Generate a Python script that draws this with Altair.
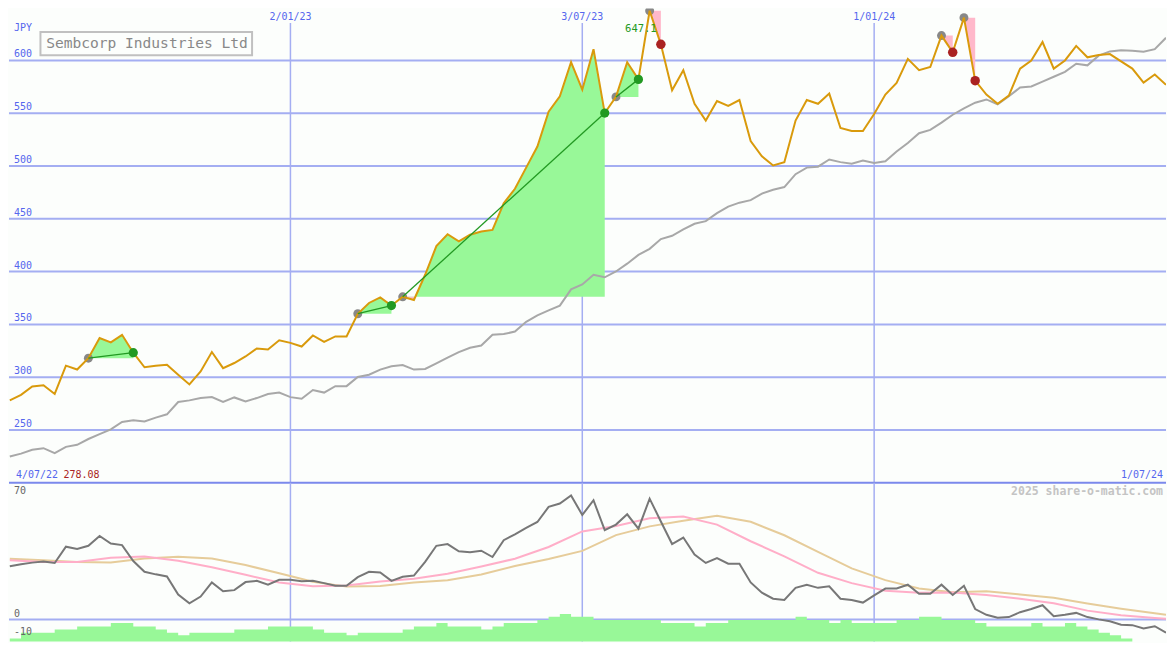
import altair as alt
import pandas as pd

# ---------------- data ----------------
TITLE = "Sembcorp Industries Ltd"
START = "2022-07-11"

price = [278.08, 283.2, 291.2, 292.4, 284.1, 310.9, 307.2, 318.0, 337.1, 333.0,
         340.1, 323.2, 309.4, 310.9, 311.8, 302.3, 293.1, 305.4, 323.8, 308.5,
         313.4, 319.6, 327.2, 326.3, 334.9, 332.5, 329.0, 339.5, 333.4, 338.6,
         338.6, 360.1, 370.3, 375.5, 367.8, 376.1, 373.1, 397.0, 424.1, 435.4,
         428.7, 434.9, 437.9, 439.5, 464.7, 478.5, 498.5, 518.5, 551.4, 566.1,
         598.4, 572.3, 610.7, 550.2, 565.5, 598.4, 582.1, 647.1, 615.3, 571.7,
         590.8, 559.0, 543.1, 561.5, 556.9, 562.5, 523.7, 509.2, 500.6, 503.7,
         543.1, 562.5, 559.0, 568.6, 536.0, 533.2, 533.2, 549.3, 567.7, 578.8,
         601.5, 590.8, 593.8, 623.6, 607.7, 640.6, 580.9, 567.7, 559.0, 566.8,
         592.3, 600.0, 617.5, 592.3, 600.0, 613.8, 603.0, 605.2, 606.1, 599.1,
         592.3, 579.1, 586.7, 576.9]

ma = [224.8, 227.6, 231.3, 232.7, 228.0, 234.0, 235.9, 241.4, 246.0, 250.6,
      257.6, 259.2, 258.0, 261.7, 264.8, 276.5, 278.0, 280.2, 281.1, 276.5,
      280.8, 277.1, 280.2, 284.1, 285.4, 281.1, 279.5, 287.8, 285.4, 291.5,
      291.5, 300.2, 302.3, 307.2, 310.3, 311.5, 307.2, 307.8, 313.1, 318.6,
      323.8, 327.9, 330.0, 340.1, 340.8, 343.2, 352.4, 358.6, 363.2, 367.8,
      383.2, 387.8, 397.0, 394.6, 400.1, 407.5, 415.8, 421.6, 430.8, 433.9,
      440.0, 445.3, 447.8, 455.4, 461.6, 465.3, 467.7, 473.9, 477.6, 480.1,
      492.3, 498.5, 499.4, 506.2, 503.7, 502.2, 505.3, 502.8, 504.6, 513.8,
      521.9, 531.1, 534.3, 541.2, 548.6, 554.6, 560.0, 563.1, 558.5, 566.1,
      574.4, 575.4, 580.0, 584.6, 589.2, 596.9, 595.4, 604.6, 608.6, 609.8,
      609.2, 608.3, 610.7, 621.5]

mom = [30.4, 31.6, 32.5, 33.2, 32.3, 41.6, 40.3, 42.1, 47.7, 43.4,
       42.5, 33.4, 27.3, 25.8, 24.6, 14.3, 9.3, 13.1, 21.2, 16.2,
       16.8, 21.4, 22.1, 19.9, 22.7, 22.7, 21.8, 22.1, 20.8, 19.3,
       19.3, 24.2, 27.3, 26.9, 22.1, 24.4, 25.1, 32.9, 42.1, 43.1,
       39.0, 38.4, 39.3, 35.7, 45.3, 48.6, 52.3, 55.7, 64.3, 66.2,
       70.8, 59.7, 68.1, 51.0, 54.2, 60.1, 51.9, 69.0, 56.0, 43.1,
       46.8, 37.1, 32.3, 35.1, 31.9, 31.9, 21.2, 15.3, 11.9, 11.2,
       18.1, 19.9, 18.1, 19.0, 11.9, 11.2, 9.7, 13.8, 17.7, 17.7,
       19.9, 14.7, 14.7, 19.9, 14.0, 19.3, 6.0, 2.7, 1.0, 1.4,
       4.2, 6.0, 8.2, 1.9, 2.7, 3.8, 1.4, 0.1, -1.0, -2.9,
       -3.2, -5.1, -3.8, -7.5]

hist = [-10.8, -7.5, -7.5, -7.5, -5.7, -5.7, -4.0, -4.0, -4.0, -1.9,
        -1.9, -4.0, -4.0, -5.7, -7.5, -9.0, -7.5, -7.5, -7.5, -7.5,
        -5.7, -5.7, -5.7, -4.0, -4.0, -4.0, -4.0, -5.7, -7.5, -7.5,
        -9.0, -7.5, -7.5, -7.5, -7.5, -5.7, -4.0, -4.0, -1.9, -4.0,
        -4.0, -4.0, -5.7, -4.0, -1.9, -1.9, -1.9, -0.3, 1.6, 3.1,
        1.6, 1.6, -0.3, -0.3, -0.3, -0.3, -0.3, -0.3, -1.9, -1.9,
        -1.9, -4.0, -1.9, -1.9, -0.3, -0.3, -0.3, -0.3, -0.3, -0.3,
        1.6, -0.3, -0.3, -1.9, -0.3, -1.9, -1.9, -1.9, -1.9, -0.3,
        -0.3, 1.6, 1.6, -0.3, -0.3, -0.3, -1.9, -4.0, -4.0, -4.0,
        -4.0, -1.9, -4.0, -4.0, -1.9, -4.0, -5.7, -7.5, -9.0, -10.8,
        -12.5, -12.5, -12.5, -12.5]

slow_idx = [0, 3, 6, 9, 12, 15, 18, 21, 24, 27, 30, 33, 36, 39, 42, 45, 48, 51,
            54, 57, 60, 63, 66, 69, 72, 75, 78, 81, 84, 87, 90, 93, 96, 99, 102, 103]
pink = [33.8, 32.8, 32.9, 35.3, 36.0, 33.6, 29.9, 25.6, 21.1, 19.0, 19.4, 21.7,
        23.3, 26.1, 30.3, 34.7, 41.4, 50.3, 53.4, 57.8, 58.8, 54.2, 44.7, 36.1,
        26.7, 20.8, 16.4, 15.3, 15.4, 14.0, 11.9, 9.3, 5.1, 2.5, 0.9, 0.4]
tan = [34.7, 33.8, 32.8, 32.6, 34.9, 35.9, 34.9, 31.1, 26.4, 21.6, 18.8, 19.2,
       21.1, 22.5, 25.7, 30.6, 34.6, 39.2, 48.2, 53.2, 56.4, 59.2, 55.8, 48.1,
       38.6, 29.2, 22.5, 17.7, 15.6, 16.1, 14.3, 12.5, 9.2, 6.2, 3.6, 2.7]

buy_trades = [(7, 11), (31, 34), (35, 53), (54, 56)]
sell_trades = [(57, 58), (83, 84), (85, 86)]
under_water = [(35, 36)]

price_ticks = [250, 300, 350, 400, 450, 500, 550, 600]
osc_ticks = [70, 0, -10]
grid_dates = ["2023-01-02", "2023-07-03", "2024-01-01"]
grid_labels = ["2/01/23", "3/07/23", "1/01/24"]
first_label = "4/07/22"
last_label = "1/07/24"
peak_label = "647.1"
watermark = "2025 share-o-matic.com"

# ---------------- style / layout ----------------
W, H1, H2 = 1159, 475, 159
BG = "#fcfefc"
BLUE_TXT = "#5566ee"
GRID = "#a4aef2"
SEP = "#7b89ec"
FONT = "DejaVu Sans Mono"
GREEN_FILL = "#98f898"
PINK_FILL = "#ffb8ca"

dates = pd.date_range(START, periods=len(price), freq="7D")
df = pd.DataFrame({"date": dates, "price": price, "ma": ma, "mom": mom, "hist": hist})
slow = pd.DataFrame({"date": dates[slow_idx], "pink": pink, "tan": tan})


def segs(trades, tag):
    rows = []
    for k, (a, b) in enumerate(trades):
        for i in range(a, b + 1):
            rows.append({"trade": f"{tag}{k}", "date": dates[i],
                         "price": price[i], "base": price[a]})
    return pd.DataFrame(rows)


buy_df = segs(buy_trades, "b")
sell_df = segs(sell_trades + under_water, "s")
line_df = pd.DataFrame(
    [{"trade": f"b{k}", "date": dates[i], "price": price[i]}
     for k, (a, b) in enumerate(buy_trades) for i in (a, b)])

entry_idx = [a for a, b in buy_trades + sell_trades]
win_idx = [b for a, b in buy_trades]
loss_idx = [b for a, b in sell_trades]


def dots(idx):
    return pd.DataFrame({"date": dates[idx], "price": [price[i] for i in idx]})


grid_df = pd.DataFrame({"date": pd.to_datetime(grid_dates), "lab": grid_labels})
ptick_df = pd.DataFrame({"v": price_ticks, "lab": [str(v) for v in price_ticks]})
otick_df = pd.DataFrame({"v": osc_ticks, "lab": [str(v) for v in osc_ticks]})
one = pd.DataFrame({"t": [TITLE]})

xdom = [alt.DateTime(year=2022, month=7, date=10, hours=12),
        alt.DateTime(year=2024, month=7, date=1)]
xs = alt.Scale(domain=xdom, nice=False)
ys = alt.Scale(domain=[200, 649.2], nice=False, zero=False)
bs = alt.Scale(domain=[-12.5, 78.1], nice=False, zero=False)


def X(f="date"):
    return alt.X(f"{f}:T", scale=xs, axis=None)


def Y(f):
    return alt.Y(f"{f}:Q", scale=ys, axis=None, stack=False)


def B(f):
    return alt.Y(f"{f}:Q", scale=bs, axis=None, stack=False)


def txt(**kw):
    base = dict(font=FONT, fontSize=10, align="left", baseline="middle")
    base.update(kw)
    return base


# ---------------- top panel ----------------
hgrid = alt.Chart(ptick_df).mark_rule(color=GRID, strokeWidth=2).encode(y=Y("v"))
vgrid = alt.Chart(grid_df).mark_rule(color=GRID, strokeWidth=1.5).encode(
    x=X(), y=alt.value(14.6), y2=alt.value(H1))
sep = alt.Chart(one).mark_rule(color=SEP, strokeWidth=2).encode(
    x=alt.value(0), x2=alt.value(W), y=alt.value(H1))

green_area = alt.Chart(buy_df).mark_area(color=GREEN_FILL, opacity=1).encode(
    x=X(), y=Y("price"), y2="base:Q", detail="trade:N")
pink_area = alt.Chart(sell_df).mark_area(color=PINK_FILL, opacity=1).encode(
    x=X(), y=Y("price"), y2="base:Q", detail="trade:N")
ma_line = alt.Chart(df).mark_line(color="#a8a8a8", strokeWidth=2, clip=True).encode(
    x=X(), y=Y("ma"))
price_line = alt.Chart(df).mark_line(color="#d99a0c", strokeWidth=2, clip=True).encode(
    x=X(), y=Y("price"))
trade_line = alt.Chart(line_df).mark_line(color="#229922", strokeWidth=1.3).encode(
    x=X(), y=Y("price"), detail="trade:N")
gray_dots = alt.Chart(dots(entry_idx)).mark_circle(
    color="#888888", size=80, opacity=1, clip=True).encode(x=X(), y=Y("price"))
green_dots = alt.Chart(dots(win_idx)).mark_circle(
    color="#229922", size=85, opacity=1, clip=True).encode(x=X(), y=Y("price"))
red_dots = alt.Chart(dots(loss_idx)).mark_circle(
    color="#aa2222", size=90, opacity=1, clip=True).encode(x=X(), y=Y("price"))

ptick_txt = alt.Chart(ptick_df).mark_text(**txt(color=BLUE_TXT, dy=-6)).encode(
    x=alt.value(5), y=Y("v"), text="lab:N")
jpy_txt = alt.Chart(one).mark_text(**txt(color=BLUE_TXT)).encode(
    x=alt.value(5), y=alt.value(19.5), text=alt.value("JPY"))
date_txt = alt.Chart(grid_df).mark_text(**txt(color=BLUE_TXT, align="center")).encode(
    x=X(), y=alt.value(8.8), text="lab:N")
peak_df = pd.DataFrame({"date": [dates[57]], "price": [price[57]], "lab": [peak_label]})
peak_txt = alt.Chart(peak_df).mark_text(
    **txt(color="#229922", align="right", fontSize=10.5, dx=7, dy=18)).encode(
    x=X(), y=Y("price"), text="lab:N")
first_txt = alt.Chart(one).mark_text(**txt(color=BLUE_TXT)).encode(
    x=alt.value(7), y=alt.value(467), text=alt.value(first_label))
first_val = alt.Chart(one).mark_text(**txt(color="#aa2222")).encode(
    x=alt.value(54.5), y=alt.value(467), text=alt.value(f"{price[0]:.2f}"))
last_txt = alt.Chart(one).mark_text(**txt(color=BLUE_TXT, align="right")).encode(
    x=alt.value(1156), y=alt.value(467), text=alt.value(last_label))
title_box = alt.Chart(one).mark_rect(fill=BG, stroke="#c0c0c0", strokeWidth=2).encode(
    x=alt.value(31.5), x2=alt.value(243.5), y=alt.value(23.5), y2=alt.value(46.8))
title_txt = alt.Chart(one).mark_text(**txt(color="#888888", fontSize=14.6)).encode(
    x=alt.value(37.2), y=alt.value(35.6), text="t:N")

top = alt.layer(
    hgrid, vgrid, sep, green_area, pink_area, ma_line, gray_dots, price_line,
    trade_line, green_dots, red_dots, ptick_txt, jpy_txt, date_txt, peak_txt,
    first_txt, first_val, last_txt, title_box, title_txt,
).properties(width=W, height=H1)

# ---------------- bottom panel ----------------
bvgrid = alt.Chart(grid_df).mark_rule(color=GRID, strokeWidth=1.5).encode(
    x=X(), y=alt.value(0), y2=alt.value(H2))
zero_line = alt.Chart(otick_df[otick_df.v == 0]).mark_rule(
    color=GRID, strokeWidth=2).encode(y=B("v"))
hist_area = alt.Chart(df).mark_area(
    color=GREEN_FILL, opacity=1, interpolate="step-after").encode(
    x=X(), y=B("hist"), y2=alt.value(H2))
tan_line = alt.Chart(slow).mark_line(color="#e6cc9a", strokeWidth=2, clip=True).encode(
    x=X(), y=B("tan"))
pink_line = alt.Chart(slow).mark_line(color="#ffaec8", strokeWidth=2, clip=True).encode(
    x=X(), y=B("pink"))
mom_line = alt.Chart(df).mark_line(color="#777777", strokeWidth=2, clip=True).encode(
    x=X(), y=B("mom"))
otick_txt = alt.Chart(otick_df).mark_text(**txt(color="#666666", dy=-5.5)).encode(
    x=alt.value(5), y=B("v"), text="lab:N")
wm_txt = alt.Chart(one).mark_text(
    **txt(color="#c4c4c4", align="right", fontSize=11.5, fontWeight="bold")).encode(
    x=alt.value(1156), y=alt.value(8.8), text=alt.value(watermark))

bottom = alt.layer(
    bvgrid, zero_line, hist_area, tan_line, pink_line, mom_line, otick_txt, wm_txt,
).properties(width=W, height=H2)

chart = alt.vconcat(top, bottom, spacing=0, bounds="flush").properties(
    padding=0, background=BG
).configure_view(strokeWidth=0)

chart.save("out.html", embed_options={"renderer": "svg", "actions": False})
